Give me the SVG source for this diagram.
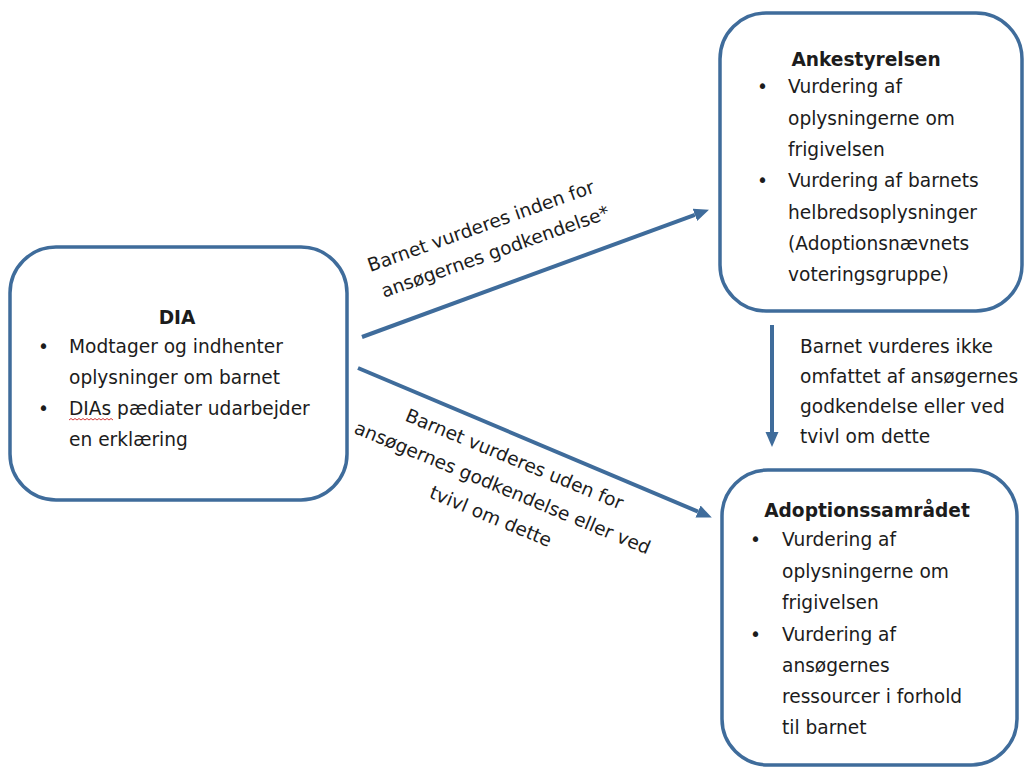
<svg xmlns="http://www.w3.org/2000/svg" width="1030" height="768" viewBox="0 0 1030 768">
<defs>
<style>
.box{fill:#fff;stroke:#3F6C9B;stroke-width:3.5}
.t{font-family:"DejaVu Sans","Liberation Sans",sans-serif;font-size:18.6px;fill:#1c1c1c}
.b{font-weight:bold;text-anchor:middle}
.m{text-anchor:middle}
.conn{stroke:#3F6C9B;stroke-width:4;fill:none}
</style>
<marker id="ah" markerUnits="userSpaceOnUse" markerWidth="16" markerHeight="16" refX="0" refY="8" orient="auto">
<path d="M0,1.5 L15,8 L0,14.5 Z" fill="#3F6C9B"/>
</marker>
</defs>
<rect width="1030" height="768" fill="#fff"/>

<g id="connectors">
<line class="conn" x1="362" y1="337" x2="694.9" y2="214.8" marker-end="url(#ah)"/>
<line class="conn" x1="358" y1="368" x2="698" y2="511.6" marker-end="url(#ah)"/>
<line class="conn" x1="772" y1="325" x2="772" y2="432" marker-end="url(#ah)"/>
<g class="t">
<g transform="translate(483,232) rotate(-19.5)">
<text class="m" x="0" y="0">Barnet vurderes inden for</text>
<text class="m" x="5" y="29">ansøgernes godkendelse*</text>
</g>
<g transform="translate(512,465) rotate(22.5)">
<text class="m" x="0" y="0">Barnet vurderes uden for</text>
<text class="m" x="0" y="31">ansøgernes godkendelse eller ved</text>
<text class="m" x="0" y="62">tvivl om dette</text>
</g>
<text x="800" y="353">Barnet vurderes ikke</text>
<text x="800" y="383">omfattet af ansøgernes</text>
<text x="800" y="413">godkendelse eller ved</text>
<text x="800" y="443">tvivl om dette</text>
</g>
</g>

<g id="node-dia">
<rect class="box" x="10" y="247" width="337" height="253" rx="46" ry="46"/>
<g class="t">
<text class="b" x="177" y="324">DIA</text>
<text x="38" y="353">•</text>
<text x="69" y="353">Modtager og indhenter</text>
<text x="69" y="384">oplysninger om barnet</text>
<text x="38" y="415">•</text>
<text x="69" y="415">DIAs pædiater udarbejder</text>
<text x="69" y="446">en erklæring</text>
</g>
<path d="M69,420 l2,-1.5 l2,1.5 l2,-1.5 l2,1.5 l2,-1.5 l2,1.5 l2,-1.5 l2,1.5 l2,-1.5 l2,1.5 l2,-1.5 l2,1.5 l2,-1.5 l2,1.5 l2,-1.5 l2,1.5 l2,-1.5 l2,1.5 l2,-1.5 l2,1.5 l2,-1.5 l2,1.5" fill="none" stroke="#d23a3a" stroke-width="1"/>
</g>

<g id="node-ankestyrelsen">
<rect class="box" x="720" y="13" width="302" height="298" rx="46" ry="46"/>
<g class="t">
<text class="b" x="866" y="66">Ankestyrelsen</text>
<text x="757" y="93">•</text>
<text x="788" y="93">Vurdering af</text>
<text x="788" y="124.5">oplysningerne om</text>
<text x="788" y="156">frigivelsen</text>
<text x="757" y="187">•</text>
<text x="788" y="187">Vurdering af barnets</text>
<text x="788" y="218.5">helbredsoplysninger</text>
<text x="788" y="250">(Adoptionsnævnets</text>
<text x="788" y="281">voteringsgruppe)</text>
</g>
</g>

<g id="node-adoptionssamraadet">
<rect class="box" x="722" y="470" width="295" height="295" rx="46" ry="46"/>
<g class="t">
<text class="b" x="867" y="517">Adoptionssamrådet</text>
<text x="750" y="546">•</text>
<text x="782" y="546">Vurdering af</text>
<text x="782" y="578">oplysningerne om</text>
<text x="782" y="609">frigivelsen</text>
<text x="750" y="641">•</text>
<text x="782" y="641">Vurdering af</text>
<text x="782" y="672">ansøgernes</text>
<text x="782" y="703">ressourcer i forhold</text>
<text x="782" y="734">til barnet</text>
</g>
</g>
</svg>
